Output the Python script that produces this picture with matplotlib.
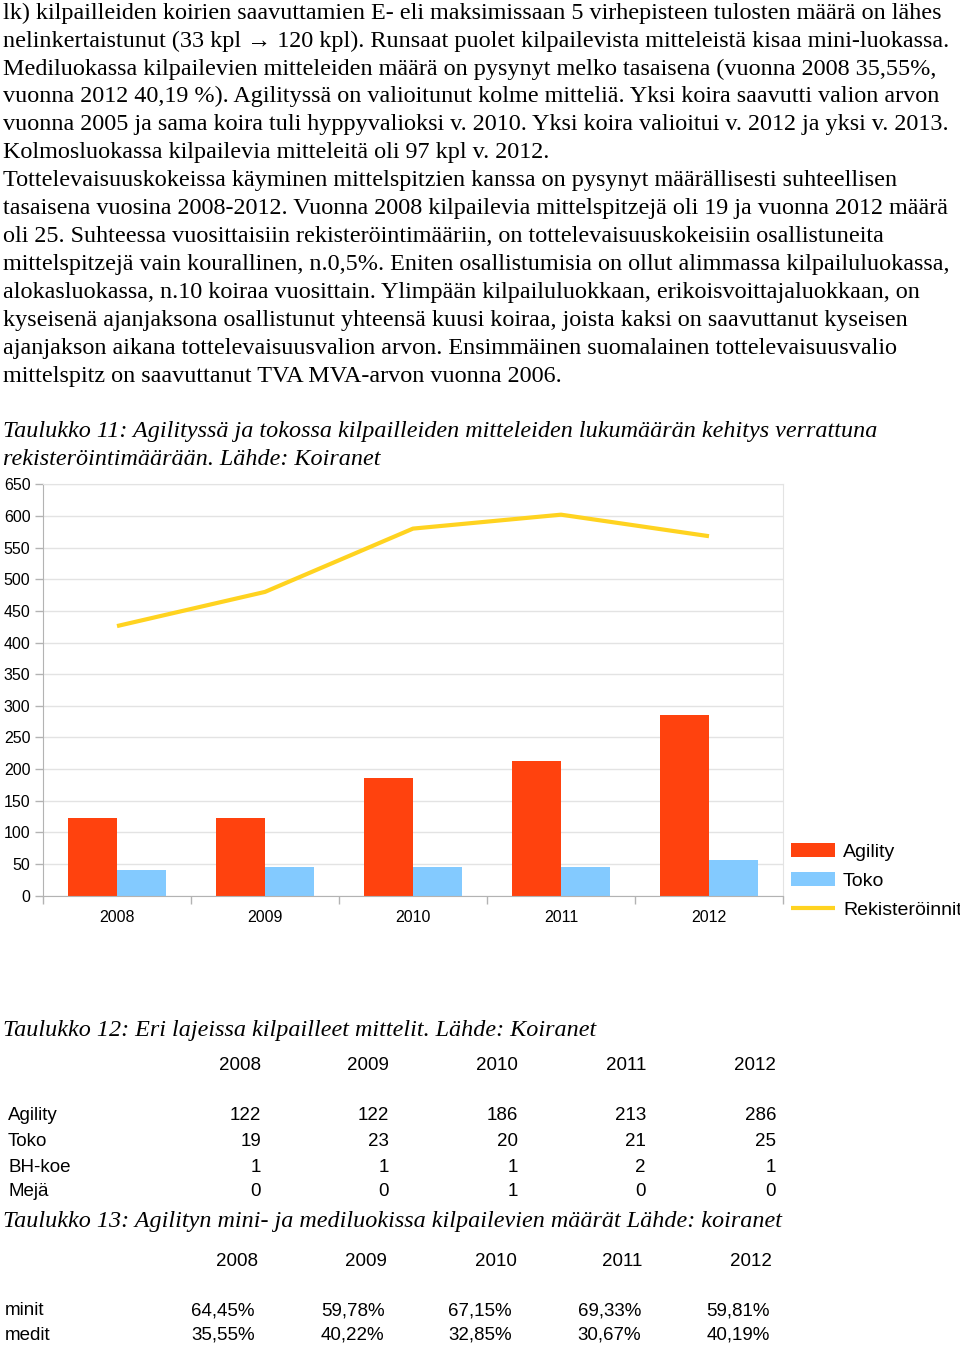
import matplotlib
matplotlib.use('Agg')
import matplotlib.pyplot as plt
import numpy as np

W, H = 960, 1345

years = ['2008', '2009', '2010', '2011', '2012']
agility = [122, 122, 186, 213, 286]
toko_chart = [40, 46, 45, 46, 56]
registrations = [426, 480, 580, 602, 568]

toko = [19, 23, 20, 21, 25]
bh_koe = [1, 1, 1, 2, 1]
meja = [0, 0, 1, 0, 0]
minit = ['64,45%', '59,78%', '67,15%', '69,33%', '59,81%']
medit = ['35,55%', '40,22%', '32,85%', '30,67%', '40,19%']

body_lines = [
    "lk) kilpailleiden koirien saavuttamien E- eli maksimissaan 5 virhepisteen tulosten määrä on lähes",
    "nelinkertaistunut (33 kpl \u2192 120 kpl). Runsaat puolet kilpailevista mitteleistä kisaa mini-luokassa.",
    "Mediluokassa kilpailevien mitteleiden määrä on pysynyt melko tasaisena (vuonna 2008 35,55%,",
    "vuonna 2012 40,19 %). Agilityssä on valioitunut kolme mitteliä. Yksi koira saavutti valion arvon",
    "vuonna 2005 ja sama koira tuli hyppyvalioksi v. 2010. Yksi koira valioitui v. 2012 ja yksi v. 2013.",
    "Kolmosluokassa kilpailevia mitteleitä oli 97 kpl v. 2012.",
    "Tottelevaisuuskokeissa käyminen mittelspitzien kanssa on pysynyt määrällisesti suhteellisen",
    "tasaisena vuosina 2008-2012. Vuonna 2008 kilpailevia mittelspitzejä oli 19 ja vuonna 2012 määrä",
    "oli 25. Suhteessa vuosittaisiin rekisteröintimääriin, on tottelevaisuuskokeisiin osallistuneita",
    "mittelspitzejä vain kourallinen, n.0,5%. Eniten osallistumisia on ollut alimmassa kilpailuluokassa,",
    "alokasluokassa, n.10 koiraa vuosittain. Ylimpään kilpailuluokkaan, erikoisvoittajaluokkaan, on",
    "kyseisenä ajanjaksona osallistunut yhteensä kuusi koiraa, joista kaksi on saavuttanut kyseisen",
    "ajanjakson aikana tottelevaisuusvalion arvon. Ensimmäinen suomalainen tottelevaisuusvalio",
    "mittelspitz on saavuttanut TVA MVA-arvon vuonna 2006.",
]

serif = ['Liberation Serif', 'DejaVu Serif']
sans = ['Liberation Sans', 'DejaVu Sans']
plt.rcParams['font.family'] = sans

fig = plt.figure(figsize=(W / 100, H / 100), dpi=100)


def put(x, y, s, **kw):
    # x, y in pixels from the top-left corner, y is the baseline
    fig.text(x / W, 1 - y / H, s, va='baseline', **kw)


# body text
for i, line in enumerate(body_lines):
    put(3, 18.7 + 27.93 * i, line, family=serif, fontsize=17.4)

put(3, 437, "Taulukko 11: Agilityssä ja tokossa kilpailleiden mitteleiden lukumäärän kehitys verrattuna",
    family=serif, style='italic', fontsize=17.4)
put(3, 465, "rekisteröintimäärään. Lähde: Koiranet", family=serif, style='italic', fontsize=17.4)

# chart
ax = fig.add_axes([43 / W, 1 - 895.7 / H, 740 / W, 411.4 / H])
x = np.arange(len(years))
ax.bar(x - 1 / 3, agility, width=1 / 3, align='edge', color='#ff420e', label='Agility', zorder=2)
ax.bar(x, toko_chart, width=1 / 3, align='edge', color='#83caff', label='Toko', zorder=2)
ax.plot(x, registrations, color='#ffd320', lw=3, label='Rekisteröinnit', zorder=3,
        solid_joinstyle='round', solid_capstyle='butt')
ax.set_xlim(-0.5, 4.5)
ax.set_ylim(0, 650)
ax.set_yticks(range(0, 651, 50))
ax.yaxis.grid(True, color='#e3e3e3', lw=1, zorder=0)
ax.set_axisbelow(True)
ax.set_xticks(x)
ax.set_xticklabels(years)
ax.set_xticks(np.arange(-0.5, 5, 1), minor=True)
ax.tick_params(axis='x', which='major', length=0, pad=10, labelsize=11.5)
ax.tick_params(axis='x', which='minor', length=6, color='#b3b3b3', width=1)
ax.tick_params(axis='y', length=6, color='#b3b3b3', width=1, pad=3, labelsize=11.5)
for side in ['left', 'bottom']:
    ax.spines[side].set_color('#b3b3b3')
for side in ['top', 'right']:
    ax.spines[side].set_color('#e3e3e3')

handles, labels = ax.get_legend_handles_labels()
order = [labels.index(n) for n in ['Agility', 'Toko', 'Rekisteröinnit']]
fig.legend([handles[i] for i in order], [labels[i] for i in order],
           loc='upper left', bbox_to_anchor=(791 / W, 1 - 843 / H), frameon=False,
           fontsize=14, borderpad=0, borderaxespad=0, handlelength=2.27, handleheight=0.72,
           handletextpad=0.4, labelspacing=0.58)

# table 12
put(3, 1036, "Taulukko 12: Eri lajeissa kilpailleet mittelit. Lähde: Koiranet",
    family=serif, style='italic', fontsize=17.4)
cols12 = [261, 389, 518, 646, 776]
for cx, yr in zip(cols12, years):
    put(cx, 1070, yr, ha='right', fontsize=13.5)
rows12 = [('Agility', agility, 1120), ('Toko', toko, 1146), ('BH-koe', bh_koe, 1171.5), ('Mejä', meja, 1196)]
for name, vals, yb in rows12:
    put(8, yb, name, fontsize=13.5)
    for cx, v in zip(cols12, vals):
        put(cx, yb, str(v), ha='right', fontsize=13.5)

# table 13
put(3, 1226.5, "Taulukko 13: Agilityn mini- ja mediluokissa kilpailevien määrät Lähde: koiranet",
    family=serif, style='italic', fontsize=17.4)
cols13 = [258, 386.5, 517, 642, 772]
for cx, yr in zip(cols13, years):
    put(cx, 1265.5, yr, ha='right', fontsize=13.5)
vcols13 = [255, 384.5, 512, 641, 770]
for name, vals, yb in [('minit', minit, 1315), ('medit', medit, 1340)]:
    put(5, yb, name, fontsize=13.5)
    for cx, v in zip(vcols13, vals):
        put(cx, yb, v, ha='right', fontsize=13.5)

fig.savefig('out.png', dpi=100)
